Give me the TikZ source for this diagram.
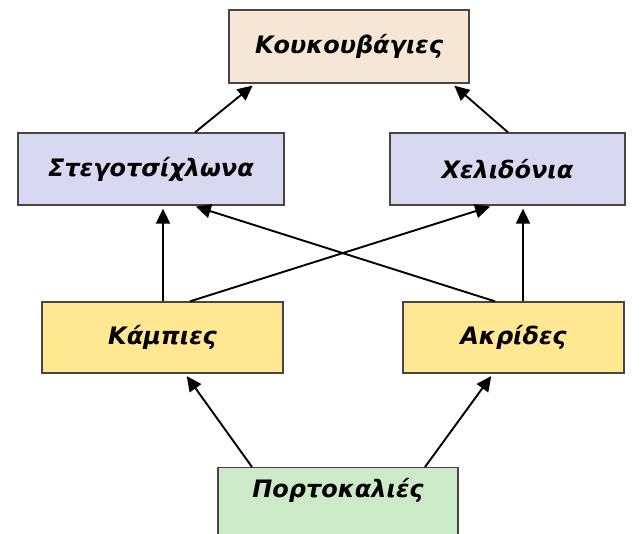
\documentclass[tikz,border=0pt]{standalone}
\usepackage{fontspec}
\setsansfont{DejaVu Sans}
\usetikzlibrary{arrows.meta}

\definecolor{owlfill}{RGB}{246,230,214}
\definecolor{birdfill}{RGB}{216,216,240}
\definecolor{bugfill}{RGB}{255,232,145}
\definecolor{treefill}{RGB}{205,234,200}
\definecolor{boxline}{RGB}{70,70,70}

\tikzset{
  level/.style={draw=boxline,line width=1.3pt,inner sep=0pt,
    font=\sffamily\bfseries\itshape\fontsize{24}{28}\selectfont},
  feeds/.style={line width=1.9pt,-{Triangle[length=15pt,width=14pt]},shorten >=3pt}
}

\begin{document}
\begin{tikzpicture}[x=1pt,y=-1pt]
      \useasboundingbox (0,0) rectangle (642,534);
      % top level
      \node[level,fill=owlfill,minimum width=240pt,minimum height=73pt] (owls) at (349,46.5) {Κουκουβάγιες};
      % birds
      \node[level,fill=birdfill,minimum width=266pt,minimum height=72pt] (stego) at (151,169) {Στεγοτσίχλωνα};
      \node[level,fill=birdfill,minimum width=235pt,minimum height=72pt] (swallow) at (507.5,169) {Χελιδόνια};
      % insects
      \node[level,fill=bugfill,minimum width=241pt,minimum height=71pt] (caterp) at (162.5,337.5) {Κάμπιες};
      \node[level,fill=bugfill,minimum width=221pt,minimum height=71pt] (locust) at (513.5,337.5) {Ακρίδες};
      % trees, cut off at the bottom
      \node[level,fill=treefill,anchor=north,minimum width=240pt,text height=30pt,text depth=70pt] (orange) at (338,467) {Πορτοκαλιές};

      \draw[feeds] ([xshift=44pt]stego.north) -- ([xshift=-94pt]owls.south);
      \draw[feeds] ([xshift=0.5pt]swallow.north) -- ([xshift=103pt]owls.south);
      \draw[feeds] ([xshift=0.5pt]caterp.north) -- ([xshift=12pt]stego.south);
      \draw[feeds] ([xshift=-18.5pt]locust.north) -- ([xshift=42pt]stego.south);
      \draw[feeds] ([xshift=27.5pt]caterp.north) -- ([xshift=-14.5pt]swallow.south);
      \draw[feeds] ([xshift=9.5pt]locust.north) -- ([xshift=15.5pt]swallow.south);
      \draw[feeds] ([xshift=-86pt]orange.north) -- ([xshift=22.5pt]caterp.south);
      \draw[feeds] ([xshift=87pt]orange.north) -- ([xshift=-20.5pt]locust.south);
\end{tikzpicture}
\end{document}
